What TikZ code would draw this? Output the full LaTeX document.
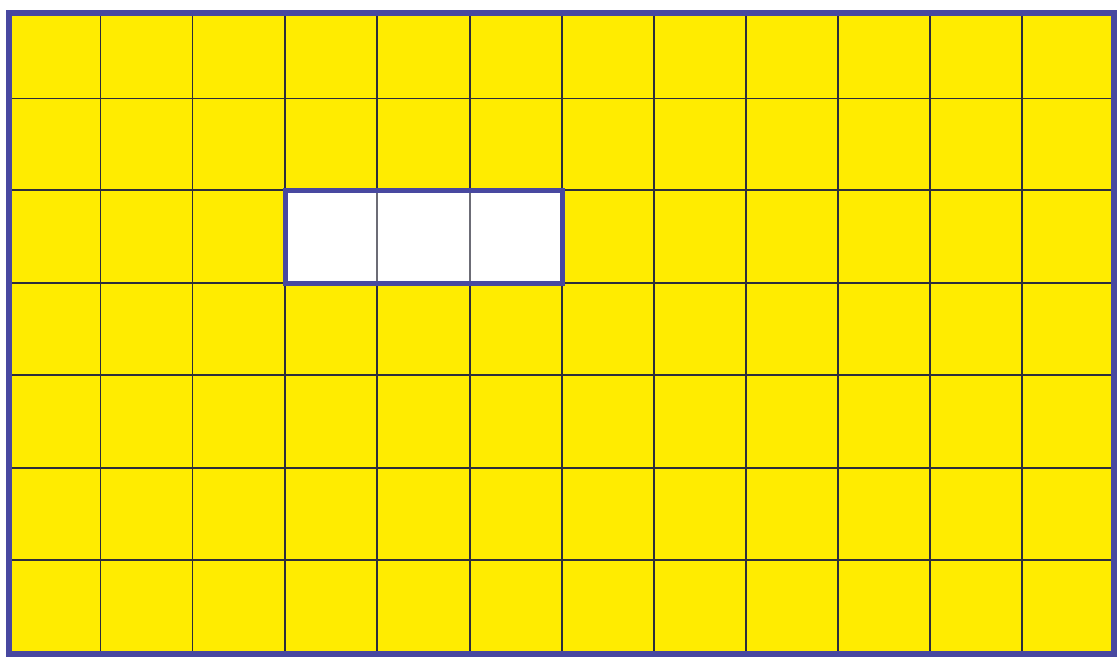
\documentclass[tikz,border=0pt]{standalone}
\definecolor{cellyellow}{RGB}{255,236,0}
\definecolor{frameblue}{RGB}{72,72,160}
\definecolor{gridline}{RGB}{45,45,60}
\begin{document}
\begin{tikzpicture}[x=1pt,y=-1pt,
  outerframe/.style={draw=frameblue,line width=6pt},
  gridrule/.style={draw=gridline,line width=1.8pt},
  blockframe/.style={draw=frameblue,line width=5pt},
  blockrule/.style={draw=gridline!70!white,line width=1.8pt}]
\useasboundingbox (0,0) rectangle (1117,657);
\fill[white] (0,0) rectangle (1117,657);
\fill[cellyellow] (8.5,12.5) rectangle (1113.5,654);
% inner grid lines
\foreach \gx in {100.5,192.5,285,377,470,562,654,746,838,930,1022}
  \draw[gridrule] (\gx,12.5) -- (\gx,654);
\foreach \gy in {98.5,190,283,375,468,560}
  \draw[gridrule] (8.5,\gy) -- (1113.5,\gy);
% white block
\fill[white] (285,190) rectangle (562,283);
\draw[blockrule] (377,190) -- (377,283);
\draw[blockrule] (470,190) -- (470,283);
\draw[blockframe] (285,190) rectangle (562,283);
% outer frame
\draw[outerframe] (8.5,12.5) rectangle (1113.5,654);
\end{tikzpicture}
\end{document}
